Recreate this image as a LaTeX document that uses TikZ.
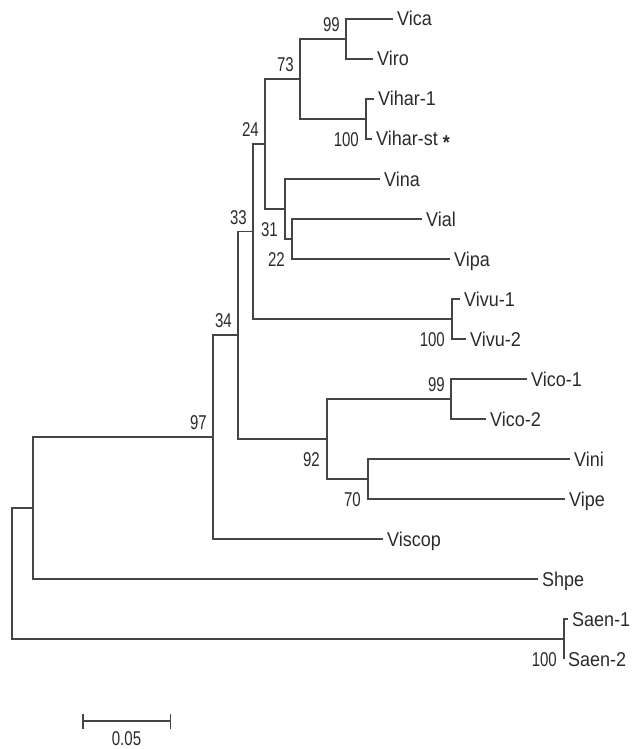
\documentclass[tikz,border=0pt]{standalone}
\usepackage{fontspec}
\setmainfont{Liberation Sans}[FakeStretch=0.9]
\newfontfamily\bootfont{Liberation Sans}[FakeStretch=0.75]
\usepackage{tikz}
\usetikzlibrary{positioning,arrows.meta}
\definecolor{branch}{HTML}{454545}
\definecolor{ink}{HTML}{2B2B2B}
\tikzset{
  branchline/.style={draw=branch, line width=1.5pt},
  taxon/.style     ={anchor=west, inner sep=4pt, text=ink, font=\fontsize{20}{24}\selectfont,
                     text height=14pt, text depth=0pt},
  boot/.style      ={inner sep=0pt, text=ink, font=\bootfont\fontsize{20}{20}\selectfont},
  scalebar/.style  ={draw=branch, line width=1.5pt, {Bar[width=15pt]}-{Bar[width=15pt]}},
}

\begin{document}
\begin{tikzpicture}[x=1pt, y=-1pt]
\useasboundingbox (0,0) rectangle (634,749);
% inner nodes
\coordinate (vc)   at (346,39);
\coordinate (vh)   at (366,119);
\coordinate (n73)  at (300,79);
\coordinate (n22)  at (292,239);
\coordinate (n31)  at (285,209);
\coordinate (n24)  at (265,144);
\coordinate (vv)   at (452,319);
\coordinate (n33)  at (253,231.5);
\coordinate (vco)  at (451,399);
\coordinate (n70)  at (368,479);
\coordinate (n92)  at (327,439);
\coordinate (n34)  at (238,335);
\coordinate (n97)  at (213,437);
\coordinate (nsh)  at (33,508);
\coordinate (sa)   at (564,639);
\coordinate (root) at (12,573.5);
% taxa
\foreach \nm/\txt/\x [count=\i from 0] in {vica/Vica/393, viro/Viro/373, vih1/Vihar-1/374,
    vihst/Vihar-st \raisebox{-4pt}{\textbf{*}}/372, vina/Vina/380, vial/Vial/422, vipa/Vipa/450,
    vivu1/Vivu-1/460, vivu2/Vivu-2/466, vico1/Vico-1/527, vico2/Vico-2/486, vini/Vini/570,
    vipe/Vipe/565, viscop/Viscop/383, shpe/Shpe/538, saen1/Saen-1/568, saen2/Saen-2/564}
  { \node[taxon] (\nm) at (\x,19+40*\i) {\txt}; }
% branches
\foreach \p/\c in {vc/vica.west, vc/viro.west, vh/vih1.west, vh/vihst.west, n73/vc, n73/vh,
    n22/vial.west, n22/vipa.west, n31/vina.west, n31/n22, n24/n73, n24/n31,
    vv/vivu1.west, vv/vivu2.west, n33/n24, n33/vv, vco/vico1.west, vco/vico2.west,
    n70/vini.west, n70/vipe.west, n92/vco, n92/n70, n34/n33, n34/n92,
    n97/n34, n97/viscop.west, nsh/n97, nsh/shpe.west, sa/saen1.west, sa/saen2.west,
    root/nsh, root/sa}
  { \draw[branchline] (\p) |- (\c); }
% bootstrap values
\node[boot, above left=7pt and 6pt of vc]   (bvc)  {99};
\node[boot, above left=7pt and 6pt of n73]  (b73)  {73};
\node[boot, below left=13pt and 7pt of vh]  (bvh)  {100};
\node[boot, above left=7pt and 6pt of n24]  (b24)  {24};
\node[boot, above left=7pt and 6pt of n33]  (b33)  {33};
\node[boot, below left=13pt and 7pt of n31] (b31)  {31};
\node[boot, below left=13pt and 7pt of n22] (b22)  {22};
\node[boot, below left=13pt and 7pt of vv]  (bvv)  {100};
\node[boot, above left=7pt and 6pt of n34]  (b34)  {34};
\node[boot, above left=7pt and 6pt of n97]  (b97)  {97};
\node[boot, above left=7pt and 6pt of vco]  (bvco) {99};
\node[boot, below left=13pt and 7pt of n92] (b92)  {92};
\node[boot, below left=13pt and 7pt of n70] (b70)  {70};
\node[boot, below left=13pt and 7pt of sa]  (bsa)  {100};
% scale
\coordinate (sbl) at (82,721);
\coordinate (sbr) at (171,721);
\draw[scalebar] (sbl) -- (sbr);
\node[boot] (sblab) at (126.5,739) {0.05};
\end{tikzpicture}
\end{document}
